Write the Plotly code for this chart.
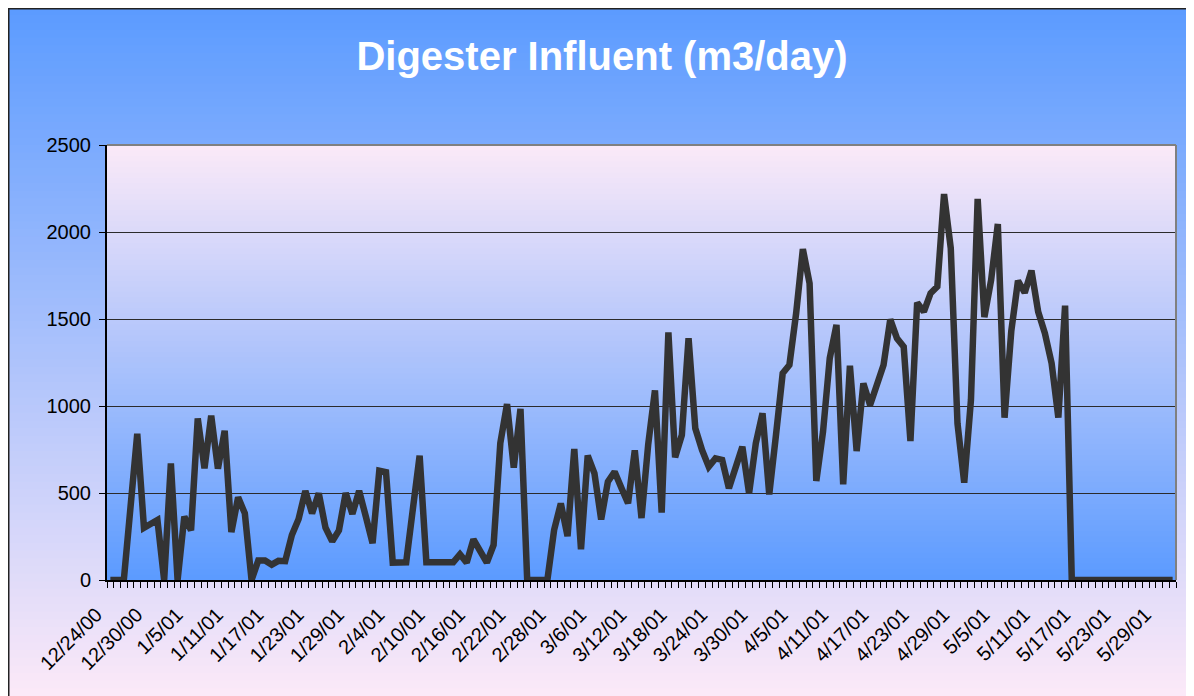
import plotly.graph_objects as go
import pandas as pd

# ---------------- data ----------------
start_date = "2000-12-24"
influent = [
    0, 0, 0, 420, 840, 300, 326, 345, 0, 670,
    0, 364, 285, 929, 642, 944, 640, 858, 275, 475,
    383, 0, 112, 112, 88, 110, 108, 259, 350, 512,
    383, 498, 300, 222, 285, 500, 380, 512, 364, 211,
    628, 620, 100, 100, 102, 410, 715, 102, 102, 102,
    102, 102, 148, 100, 234, 165, 100, 201, 786, 1011,
    646, 983, 0, 0, 0, 0, 287, 440, 252, 753,
    176, 715, 613, 348, 565, 622, 530, 441, 745, 356,
    780, 1090, 387, 1423, 705, 833, 1389, 872, 747, 651,
    699, 690, 527, 661, 766, 498, 786, 958, 492, 833,
    1188, 1236, 1533, 1902, 1705, 569, 852, 1274, 1466, 550,
    1232, 741, 1130, 1006, 1121, 1236, 1498, 1389, 1341, 799,
    1594, 1542, 1648, 1686, 2218, 1906, 900, 559, 1034, 2190,
    1511, 1724, 2046, 933, 1430, 1720, 1651, 1778, 1542, 1418,
    1245, 933, 1577, 0, 0, 0, 0, 0, 0, 0,
    0, 0, 0, 0, 0, 0, 0, 0, 0,
]
tick_labels = [
    "12/24/00", "12/30/00", "1/5/01", "1/11/01", "1/17/01", "1/23/01",
    "1/29/01", "2/4/01", "2/10/01", "2/16/01", "2/22/01", "2/28/01",
    "3/6/01", "3/12/01", "3/18/01", "3/24/01", "3/30/01", "4/5/01",
    "4/11/01", "4/17/01", "4/23/01", "4/29/01", "5/5/01", "5/11/01",
    "5/17/01", "5/23/01", "5/29/01",
]
y_ticks = [0, 500, 1000, 1500, 2000, 2500]
title_text = "Digester Influent (m3/day)"

dates = pd.date_range(start_date, periods=len(influent), freq="D")
tick_dates = pd.to_datetime(tick_labels, format="%m/%d/%y")

# ---------------- geometry / style ----------------
W, H = 1194, 696
OFF = 8  # page body margin: figure origin sits at page (8, 8)
# target plot area in page pixels: x 107.3..1176, y 145..580
ML = 107 - OFF
MR = W - (1176 - OFF)
MT = 145 - OFF
MB = H - (580 - OFF)
PW, PH = W - ML - MR, H - MT - MB


def px2paper_x(fx):
    return (fx - ML) / PW


def px2paper_y(fy):
    return (H - MB - fy) / PH


def lerp(c1, c2, t):
    return "rgb(%d,%d,%d)" % tuple(round(a + (b - a) * t) for a, b in zip(c1, c2))


shapes = []
# outer (chart area) gradient: blue top -> pale pink bottom (page y 7 .. 696)
outer_top, outer_bot = (91, 155, 255), (252, 233, 248)
N = 90
y_top, y_bot = 7 - OFF, 696 - OFF
for i in range(N):
    p0 = y_top + (y_bot - y_top) * i / N
    p1 = y_top + (y_bot - y_top) * (i + 1) / N + 1.5
    shapes.append(dict(type="rect", xref="paper", yref="paper",
                       x0=px2paper_x(0), x1=px2paper_x(W),
                       y0=px2paper_y(p1), y1=px2paper_y(p0),
                       fillcolor=lerp(outer_top, outer_bot, (i + 0.5) / N),
                       line=dict(width=0), layer="below"))
# plot area gradient: pale pink top -> blue bottom
plot_top, plot_bot = (251, 233, 248), (91, 155, 255)
N2 = 80
for i in range(N2):
    shapes.append(dict(type="rect", xref="paper", yref="paper",
                       x0=0, x1=1,
                       y0=max(0, 1 - (i + 1) / N2 - 0.004), y1=1 - i / N2,
                       fillcolor=lerp(plot_top, plot_bot, (i + 0.5) / N2),
                       line=dict(width=0), layer="below"))
# chart border
shapes.append(dict(type="rect", xref="paper", yref="paper",
                   x0=px2paper_x(0.75), x1=px2paper_x(1190.5 - OFF),
                   y0=px2paper_y(H + 5), y1=px2paper_y(0.75),
                   fillcolor="rgba(0,0,0,0)", line=dict(color="#222222", width=1.5),
                   layer="below"))
# gray top / right plot border
shapes.append(dict(type="line", xref="paper", yref="paper", x0=0, x1=1, y0=1, y1=1,
                   line=dict(color="#808080", width=2), layer="above"))
shapes.append(dict(type="line", xref="paper", yref="paper", x0=1, x1=1, y0=0, y1=1,
                   line=dict(color="#808080", width=2), layer="above"))

fig = go.Figure()
fig.add_trace(go.Scatter(
    x=dates, y=influent, mode="lines",
    line=dict(color="#333333", width=6.5),
    showlegend=False, hoverinfo="x+y",
))

font_family = "Arial, 'Liberation Sans', sans-serif"
half_day = pd.Timedelta(hours=12)

fig.update_layout(
    width=W, height=H,
    margin=dict(l=ML, r=MR, t=MT, b=MB),
    paper_bgcolor="white",
    plot_bgcolor="rgba(0,0,0,0)",
    shapes=shapes,
    showlegend=False,
    title=dict(text="<b>" + title_text + "</b>", x=(602 - OFF) / W, xref="container",
               y=1 - (56 - OFF) / H, yref="container", xanchor="center", yanchor="middle",
               font=dict(family=font_family, size=40, color="white")),
    font=dict(family=font_family, color="black"),
)
fig.update_xaxes(
    type="date",
    range=[dates[0] - half_day, dates[-1] + half_day],
    tickmode="array", tickvals=tick_dates, ticktext=tick_labels,
    tickangle=-45, ticks="", tickfont=dict(size=20, color="black"),
    ticklabelstandoff=13, ticklabelshift=-14,
    showgrid=False, zeroline=False,
    showline=True, linecolor="black", linewidth=2,
    minor=dict(ticks="outside", ticklen=6, tickcolor="black", tickwidth=1,
               tick0=dates[0] - half_day, dtick=86400000, showgrid=False),
)
fig.update_yaxes(
    range=[0, 2500], tickmode="array", tickvals=y_ticks,
    ticks="outside", ticklen=6, tickcolor="black",
    tickfont=dict(size=20, color="black"), ticklabelstandoff=4,
    showgrid=True, gridcolor="#2b2b2b", gridwidth=1,
    zeroline=False, showline=True, linecolor="black", linewidth=2,
)

fig.write_html("out.html")
